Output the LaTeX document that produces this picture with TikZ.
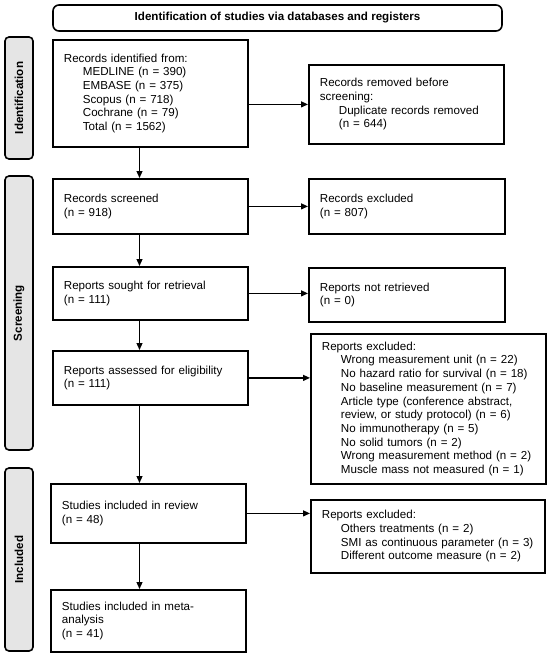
\documentclass[tikz,border=0pt]{standalone}
\usepackage{fontspec}
\setmainfont{Liberation Sans}
\usetikzlibrary{arrows.meta}
\begin{document}
\begin{tikzpicture}[x=1pt,y=-1pt,
  every node/.style={font=\fontsize{11.6}{13.7}\selectfont},
  box/.style={draw, line width=1.8pt, inner xsep=11pt, inner ysep=0pt, align=left, anchor=north west},
  sidebox/.style={draw, line width=1.6pt, rounded corners=4pt, fill=gray!20, rotate=90, inner sep=0pt,
    font=\fontsize{11.6}{13.7}\selectfont\bfseries, minimum height=28pt},
  conn/.style={line width=1.2pt, -{Triangle[length=7pt,width=6pt]}}
]
\useasboundingbox (0,0) rectangle (550,656);
\def\ind{\hspace*{19pt}}
% header
\node[draw, line width=1.6pt, rounded corners=6pt, minimum width=449pt, minimum height=26pt, inner sep=0pt,
  font=\fontsize{11.6}{13.7}\selectfont\bfseries] (head) at (277.5,18) {Identification of studies via databases and registers};
% side labels
\node[sidebox, minimum width=122pt] (sideI) at (19,98) {Identification};
\node[sidebox, minimum width=274pt] (sideS) at (19,313) {Screening};
\node[sidebox, minimum width=183pt] (sideIn) at (19,559.5) {Included};
% left column
\node[box, text width=173pt, minimum height=107pt] (ident) at (52,39) {Records identified from:\\
\ind MEDLINE (n = 390)\\
\ind EMBASE (n = 375)\\
\ind Scopus (n = 718)\\
\ind Cochrane (n = 79)\\
\ind Total (n = 1562)};
\node[box, text width=173pt, minimum height=55pt] (screened) at (52,178) {Records screened\\(n = 918)};
\node[box, text width=173pt, minimum height=53pt] (sought) at (52,266) {Reports sought for retrieval\\(n = 111)};
\node[box, text width=173pt, minimum height=54pt] (assessed) at (52,350) {Reports assessed for eligibility\\(n = 111)};
\node[box, text width=173pt, minimum height=59pt] (review) at (50,483) {Studies included in review\\(n = 48)};
\node[box, text width=173pt, minimum height=62pt] (meta) at (50,589) {Studies included in meta-\\analysis\\(n = 41)};
% right column
\node[box, text width=173pt, minimum height=79pt] (removed) at (308,64) {Records removed before\\screening:\\
\ind Duplicate records removed\\
\ind (n = 644)};
\node[box, text width=174pt, minimum height=55pt] (rexcl) at (308,178) {Records excluded\\(n = 807)};
\node[box, text width=174pt, minimum height=54pt] (notret) at (308,267) {Reports not retrieved\\(n = 0)};
\node[box, text width=213pt, minimum height=150pt] (excl1) at (310,333) {Reports excluded:\\
\ind Wrong measurement unit (n = 22)\\
\ind No hazard ratio for survival (n = 18)\\
\ind No baseline measurement (n = 7)\\
\ind Article type (conference abstract,\\
\ind review, or study protocol) (n = 6)\\
\ind No immunotherapy (n = 5)\\
\ind No solid tumors (n = 2)\\
\ind Wrong measurement method (n = 2)\\
\ind Muscle mass not measured (n = 1)};
\node[box, text width=212pt, minimum height=73pt] (excl2) at (310,499) {Reports excluded:\\
\ind Others treatments (n = 2)\\
\ind SMI as continuous parameter (n = 3)\\
\ind Different outcome measure (n = 2)};
% spine for vertical arrows
\coordinate (spine) at (139.5,0);
% vertical connectors
\draw[conn] (ident.south -| spine) -- (screened.north -| spine);
\draw[conn] (screened.south -| spine) -- (sought.north -| spine);
\draw[conn] (sought.south -| spine) -- (assessed.north -| spine);
\draw[conn] (assessed.south -| spine) -- (review.north -| spine);
\draw[conn] (review.south -| spine) -- (meta.north -| spine);
% horizontal connectors
\draw[conn] (removed.west -| ident.east) -- (removed.west);
\draw[conn] (screened.east) -- (screened.east -| rexcl.west);
\draw[conn] (sought.east) -- (sought.east -| notret.west);
\draw[conn] (assessed.east) -- (assessed.east -| excl1.west);
\draw[conn] (review.east) -- (review.east -| excl2.west);
\end{tikzpicture}
\end{document}
